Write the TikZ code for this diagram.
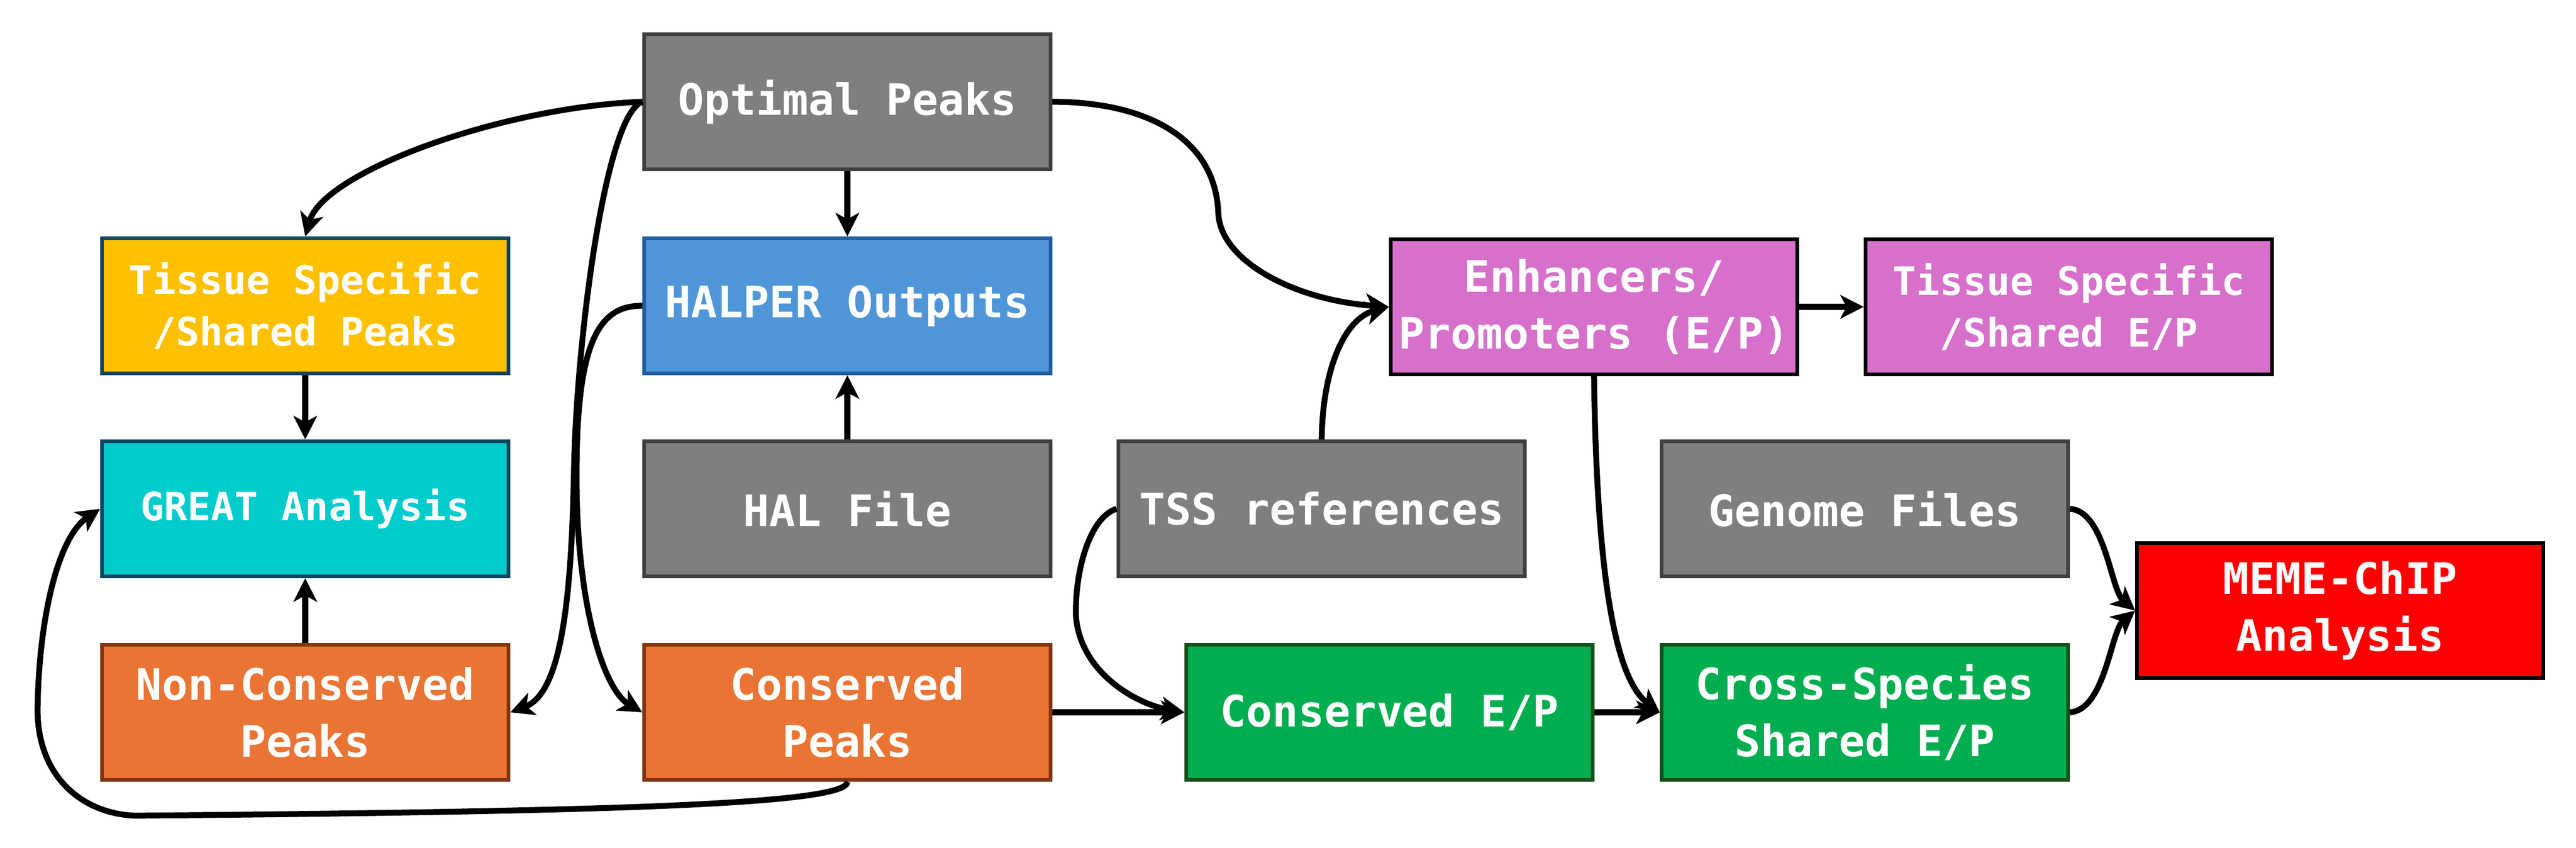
\documentclass[tikz,border=0pt]{standalone}
\usepackage{fontspec}
\setmonofont{DejaVu Sans Mono}
\usetikzlibrary{arrows.meta}

\definecolor{filegray}{HTML}{7F7F7F}
\definecolor{filegrayline}{HTML}{404040}
\definecolor{peakyellow}{HTML}{FFC000}
\definecolor{greatcyan}{HTML}{00CCCC}
\definecolor{tealline}{HTML}{124660}
\definecolor{halperblue}{HTML}{4F96D9}
\definecolor{halperline}{HTML}{1F5F9F}
\definecolor{consorange}{HTML}{EA7433}
\definecolor{consline}{HTML}{843510}
\definecolor{epgreen}{HTML}{00AE50}
\definecolor{epgreenline}{HTML}{154F1B}
\definecolor{eppink}{HTML}{D670CB}

\begin{document}
\begin{tikzpicture}[
  box/.style={draw, line width=2pt, minimum width=7.79cm, minimum height=2.59cm,
    align=center, text=white, font=\ttfamily\bfseries\fontsize{23.6}{31}\selectfont},
  smalltext/.style={font=\ttfamily\bfseries\fontsize{21.3}{27.9}\selectfont},
  flow/.style={line width=3.2pt, -{Stealth[length=4.5mm,width=4.5mm,inset=1.2mm]}}
]
\useasboundingbox (0,0) rectangle (49.37,-16.24);

% boxes
\node[box, fill=filegray, draw=filegrayline] (opt) at (16.24,-1.95) {Optimal Peaks};
\node[box, smalltext, fill=peakyellow, draw=tealline] (tsp) at (5.85,-5.86) {Tissue Specific\\/Shared Peaks};
\node[box, fill=halperblue, draw=halperline] (halper) at (16.24,-5.86) {HALPER Outputs};
\node[box, smalltext, fill=greatcyan, draw=tealline] (great) at (5.85,-9.75) {GREAT Analysis};
\node[box, fill=filegray, draw=filegrayline] (hal) at (16.24,-9.75) {HAL File};
\node[box, fill=filegray, draw=filegrayline] (tss) at (25.33,-9.75) {TSS references};
\node[box, fill=consorange, draw=consline] (noncons) at (5.85,-13.65) {Non-Conserved\\Peaks};
\node[box, fill=consorange, draw=consline] (cons) at (16.24,-13.65) {Conserved\\Peaks};
\node[box, fill=epgreen, draw=epgreenline] (consep) at (26.63,-13.65) {Conserved E/P};
\node[box, fill=epgreen, draw=epgreenline] (cross) at (35.74,-13.65) {Cross-Species\\Shared E/P};
\node[box, fill=filegray, draw=filegrayline] (genome) at (35.74,-9.75) {Genome Files};
\node[box, fill=red, draw=black] (meme) at (44.85,-11.70) {MEME-ChIP\\Analysis};
\node[box, fill=eppink, draw=black] (ep) at (30.55,-5.88) {Enhancers/\\Promoters (E/P)};
\node[box, smalltext, fill=eppink, draw=black] (tsep) at (39.65,-5.88) {Tissue Specific\\/Shared E/P};

% straight arrows
\draw[flow] (opt) -- (halper);
\draw[flow] (hal) -- (halper);
\draw[flow] (tsp) -- (great);
\draw[flow] (noncons) -- (great);
\draw[flow] (cons) -- (consep);
\draw[flow] (consep) -- (cross);
\draw[flow] (ep) -- (tsep);

% curved arrows
\draw[flow] (opt.west) .. controls (9.6,-2.05) and (6.2,-3.3) .. (tsp.north);
\draw[flow] (opt.west) .. controls (11.6,-2.2) and (11.05,-6.5) .. (11.0,-9.0)
  .. controls (10.95,-11.8) and (10.7,-13.3) .. (noncons.east);
\draw[flow] (halper.west) .. controls (11.5,-5.85) and (11.06,-6.5) .. (11.05,-9.0)
  .. controls (11.03,-11.5) and (11.55,-13.2) .. (cons.west);
\draw[flow] (cons.south) .. controls (16.25,-15.4) and (12,-15.55) .. (2.6,-15.63)
  .. controls (1.6,-15.6) and (0.72,-14.9) .. (0.72,-13.6)
  .. controls (0.74,-11.9) and (1.1,-10.3) .. (great.west);
\draw[flow] (tss.west) .. controls (20.9,-9.9) and (20.6,-10.9) .. (20.62,-11.8)
  .. controls (20.7,-12.9) and (21.8,-13.5) .. (consep.west);
\draw[flow] (tss.north) .. controls (25.35,-7.0) and (25.8,-6.1) .. (ep.west);
\draw[flow] (opt.east) .. controls (21.9,-1.95) and (23.3,-2.6) .. (23.35,-4.1)
  .. controls (23.4,-5.0) and (24.8,-5.75) .. (ep.west);
\draw[flow] (ep.south) .. controls (30.6,-11) and (30.95,-13.0) .. (cross.west);
\draw[flow] (genome.east) .. controls (40.35,-9.8) and (40.45,-11.3) .. (meme.west);
\draw[flow] (cross.east) .. controls (40.35,-13.6) and (40.45,-12.1) .. (meme.west);
\end{tikzpicture}
\end{document}
